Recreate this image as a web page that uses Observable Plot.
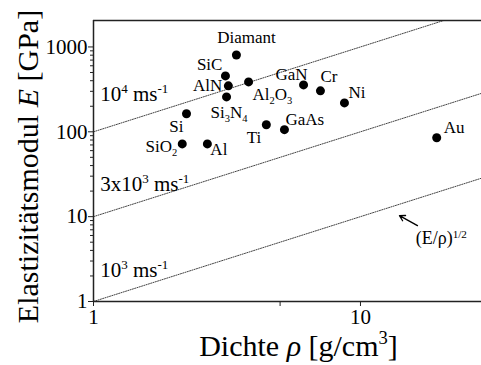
<!DOCTYPE html>
<html><head><meta charset="utf-8">
<script src="https://cdn.jsdelivr.net/npm/d3@7"></script>
<script src="https://cdn.jsdelivr.net/npm/@observablehq/plot@0.6"></script>
<style>body{margin:0;background:#fff} svg{display:block} svg text{font-family:'Liberation Serif','Times New Roman',serif !important}</style>
</head><body><div id="chart"></div>
<script>
// ---- data ----
const materials = ["Diamant","SiC","AlN","Al_{2}O_{3}","Si_{3}N_{4}","Si","SiO_{2}","Al","Ti","GaAs","GaN","Cr","Ni","Au"];
const density   = [3.43, 3.12, 3.20, 3.81, 3.15, 2.23, 2.15, 2.67, 4.44, 5.19, 6.12, 7.08, 8.71, 19.3];
const modulus   = [805, 456, 348, 387, 258, 163, 72, 72, 121, 106, 357, 304, 219, 85];
const velocityLabels = ["10^{4} ms^{-1}", "3x10^{3} ms^{-1}", "10^{3} ms^{-1}"];
const lineIntercepts = [100, 10, 1];          // E [GPa] at rho = 1
const velocityLabelRho = [1.06, 1.06, 1.06];
const velocityLabelE   = [280, 24.4, 2.32];
const densityRange = [1, 28.4];
const modulusRange = [1, 2050];
const yTicks = [1, 10, 100, 1000];
const xTicks = [1, 5, 10];
const yMinorTicks = [2,3,4,5,6,7,8,9,20,30,40,50,60,70,80,90,200,300,400,500,600,700,800,900];
const noteText = "(E/ρ)^{1/2}";
const noteRho = 16.1, noteE = 5.5;
const arrowFrom = [16.35, 7.84], arrowTo = [14.0, 10.3];

// label placement (style)
const place = {
  "Diamant": [10,-17,"middle"], "SiC": [-3,-11,"end"], "AlN": [-6,0,"end"],
  "Al_{2}O_{3}": [4,13,"start"], "Si_{3}N_{4}": [-16,16,"start"], "Si": [-3,13,"end"],
  "SiO_{2}": [-5,3,"end"], "Al": [3,6,"start"], "Ti": [-5,13,"end"], "GaAs": [1,-10,"start"],
  "GaN": [4,-10,"end"], "Cr": [0,-14,"start"], "Ni": [4,-10,"start"], "Au": [7,-10,"start"]
};

const idx = d3.range(materials.length);
const axisColor = "#222";
const serif = "'Liberation Serif','Times New Roman',serif";

const chart = Plot.plot({
  width: 481, height: 365,
  marginLeft: 93, marginRight: 0, marginTop: 20, marginBottom: 64,
  style: {fontFamily: serif, background: "#fff", color: "#000"},
  x: {type: "log", domain: densityRange},
  y: {type: "log", domain: modulusRange},
  marks: [
    ...lineIntercepts.map(c => Plot.line(densityRange.map(r => ({r, E: c * r})),
      {x: "r", y: "E", stroke: "#444", strokeWidth: 1, strokeDasharray: "1.1,1.3", clip: true})),
    Plot.ruleX([densityRange[0]], {stroke: axisColor, strokeWidth: 1.5}),
    Plot.ruleY(modulusRange, {stroke: axisColor, strokeWidth: 1.5}),
    Plot.axisY(yTicks, {tickSize: 5, tickPadding: 1, fontSize: 21, fontFamily: serif, label: null, stroke: axisColor, tickFormat: d => String(d)}),
    Plot.axisY(yMinorTicks, {tickSize: 3, text: null, label: null, stroke: axisColor}),
    Plot.axisX(xTicks, {tickSize: 5, tickPadding: 3, fontSize: 21, fontFamily: serif, label: null, stroke: axisColor, tickFormat: d => String(d)}),
    Plot.dot(idx, {x: i => density[i], y: i => modulus[i], r: 4.5, fill: "black"}),
    ...idx.map(i => {
      const [dx, dy, anchor] = place[materials[i]];
      return Plot.text([i], {x: i => density[i], y: i => modulus[i], text: i => materials[i],
        dx, dy, textAnchor: anchor, lineAnchor: "middle", fontSize: 17, fontFamily: serif, fill: "black"});
    }),
    Plot.text(velocityLabels, {x: (d, i) => velocityLabelRho[i], y: (d, i) => velocityLabelE[i], text: d => d,
      textAnchor: "start", lineAnchor: "middle", fontSize: 21, fontFamily: serif, fill: "black"}),
    Plot.text([noteText], {x: () => noteRho, y: () => noteE, text: d => d, textAnchor: "start", lineAnchor: "middle", fontSize: 18, fontFamily: serif, fill: "black"}),
    Plot.arrow([0], {x1: () => arrowFrom[0], y1: () => arrowFrom[1], x2: () => arrowTo[0], y2: () => arrowTo[1],
      stroke: "black", strokeWidth: 1.3, headLength: 7}),
    Plot.text(["Elastizitätsmodul *E* [GPa]"], {frameAnchor: "left", rotate: -90, dx: -56, dy: 5.5,
      fontSize: 30, fontFamily: serif, lineAnchor: "bottom", textAnchor: "middle", text: d => d, fill: "black"}),
    Plot.text(["Dichte *ρ* [g/cm^{3}]"], {frameAnchor: "bottom", dx: 11, dy: 54,
      fontSize: 30, fontFamily: serif, lineAnchor: "bottom", textAnchor: "middle", text: d => d, fill: "black"})
  ]
});
document.getElementById("chart").appendChild(chart);

// rich text: ^{sup}, _{sub}, *italic*
function richify(el) {
  const s = el.textContent;
  if (!/[\^_]\{|\*/.test(s)) return;
  const fs = parseFloat(getComputedStyle(el).fontSize) || 16;
  while (el.firstChild) el.removeChild(el.firstChild);
  const re = /([\^_])\{([^}]*)\}|\*([^*]*)\*|([^\^_*]+)/g;
  let m, shift = 0;
  while ((m = re.exec(s))) {
    const t = document.createElementNS("http://www.w3.org/2000/svg", "tspan");
    if (m[1]) {
      const target = m[1] === "^" ? -0.38 * fs : 0.2 * fs;
      t.setAttribute("font-size", (0.62 * fs).toFixed(1));
      t.setAttribute("dy", (target - shift).toFixed(1));
      shift = target;
      t.textContent = m[2];
    } else {
      if (shift) { t.setAttribute("dy", (-shift).toFixed(1)); shift = 0; }
      if (m[3] !== undefined) { t.setAttribute("font-style", "italic"); t.textContent = m[3]; }
      else t.textContent = m[4];
    }
    el.appendChild(t);
  }
}
chart.querySelectorAll("text").forEach(richify);
</script>
</body></html>
